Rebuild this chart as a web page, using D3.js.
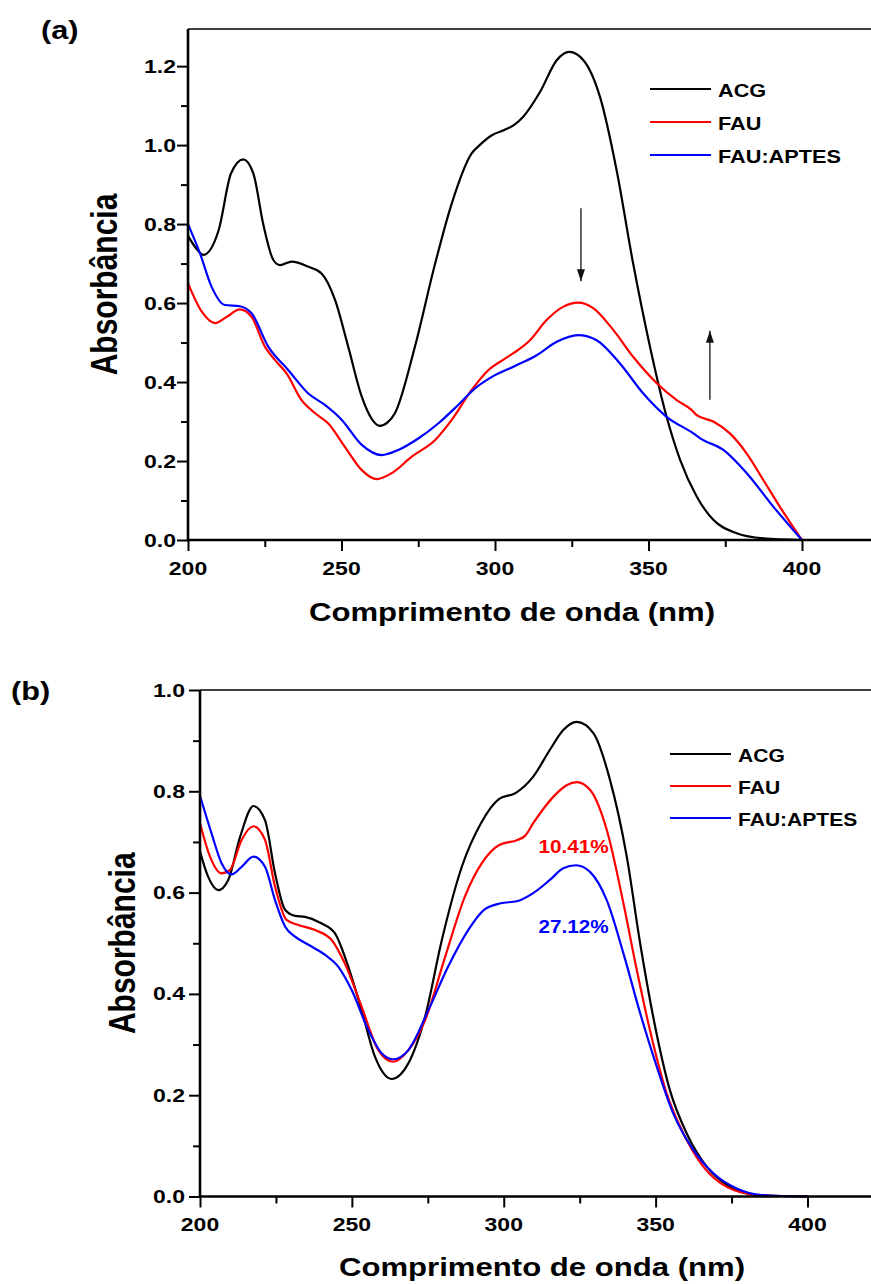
<!DOCTYPE html>
<html>
<head>
<meta charset="utf-8">
<script src="https://cdn.jsdelivr.net/npm/d3@7"></script>
<style>
body { margin: 0; background: #fff; }
text { font-family: Arial, "Liberation Sans", sans-serif; font-weight: bold; fill: #000; }
</style>
</head>
<body>
<svg id="chart" width="871" height="1284"></svg>
<script>
// ---- data: [wavelength nm, absorbance]
var acgA = [[200,0.770],[202.5,0.74],[205,0.722],[210,0.785],[214,0.928],[218,0.964],[221.3,0.928],[224.5,0.80],[227.8,0.709],[230,0.696],[233.8,0.705],[239.2,0.692],[243.5,0.675],[247.9,0.608],[252.2,0.489],[256.6,0.363],[260,0.305],[262.5,0.289],[265,0.298],[267.4,0.321],[273.9,0.489],[280.5,0.70],[285.9,0.852],[292.4,0.979],[295,1.0],[299,1.025],[303,1.038],[306,1.05],[309.2,1.072],[314.7,1.135],[320.1,1.215],[324.2,1.236],[328.8,1.215],[334.2,1.122],[339.6,0.937],[345,0.70],[350.5,0.489],[355.9,0.312],[360.3,0.203],[365.7,0.11],[371.1,0.051],[378.7,0.017],[387.4,0.004],[400,0]];
var fauA = [[200,0.65],[204.5,0.578],[208.8,0.549],[212.6,0.565],[216.9,0.584],[220.7,0.565],[225.1,0.489],[228.3,0.456],[232.1,0.422],[237,0.354],[241.4,0.321],[245.7,0.295],[251.1,0.236],[256.6,0.177],[261.5,0.154],[266.3,0.169],[272.9,0.211],[280.5,0.253],[285.9,0.304],[292.4,0.38],[297.8,0.43],[303,0.458],[306,0.473],[311.4,0.506],[316.8,0.557],[322.3,0.591],[327.1,0.601],[332,0.587],[338.5,0.532],[345,0.464],[352.7,0.397],[359.2,0.354],[364.1,0.329],[365.7,0.316],[371.1,0.30],[376.5,0.27],[382,0.219],[387.4,0.152],[392.8,0.084],[400,0]];
var aptesA = [[200,0.80],[203.9,0.726],[207.7,0.641],[212,0.595],[216.9,0.592],[220.7,0.574],[226.2,0.489],[232.7,0.43],[239.2,0.371],[244.6,0.342],[250.1,0.304],[256.6,0.241],[263.1,0.215],[268.5,0.228],[275,0.257],[281.5,0.295],[288,0.342],[293.5,0.384],[299,0.413],[306,0.439],[313.6,0.468],[320.1,0.502],[327.1,0.519],[333.1,0.506],[340.7,0.447],[348.3,0.371],[355.9,0.312],[364.6,0.27],[366.7,0.258],[374.4,0.228],[382,0.169],[390.7,0.084],[400,0]];

var acgB = [[200,0.681],[202.7,0.631],[206,0.605],[209.3,0.625],[213.2,0.71],[217.6,0.771],[221.4,0.743],[224.7,0.638],[228,0.566],[231.3,0.554],[234.6,0.552],[240.1,0.539],[244.4,0.52],[248.8,0.454],[253.2,0.368],[257.6,0.276],[263.1,0.232],[268.6,0.263],[274.1,0.355],[279.6,0.506],[286.2,0.651],[292.5,0.737],[298.5,0.785],[304,0.797],[309.7,0.829],[315.2,0.882],[319.6,0.921],[324,0.937],[329.5,0.915],[335,0.822],[340.5,0.671],[344.9,0.50],[349.2,0.355],[354.7,0.21],[360.2,0.125],[366.8,0.059],[374.5,0.019],[383.3,0.003],[400,0]];
var fauB = [[200,0.737],[203.3,0.671],[207.1,0.638],[209.9,0.645],[213.7,0.704],[217.6,0.731],[221.4,0.704],[224.7,0.612],[228.5,0.546],[232.4,0.536],[237.9,0.526],[243.4,0.506],[247.7,0.46],[253.2,0.375],[258.7,0.289],[263.6,0.266],[268.6,0.289],[274.1,0.348],[280.7,0.473],[287.2,0.592],[293,0.66],[298.5,0.694],[304.5,0.704],[307,0.712],[309.7,0.737],[316.3,0.789],[320.7,0.812],[324,0.818],[328.4,0.803],[333.9,0.724],[339.4,0.579],[343.8,0.447],[348.1,0.329],[353.6,0.204],[359.1,0.125],[365.7,0.059],[373.4,0.019],[383.3,0.003],[400,0]];
var aptesB = [[200,0.791],[203.8,0.717],[207.1,0.658],[210.4,0.636],[213.7,0.651],[217.6,0.671],[221.4,0.651],[224.7,0.585],[228,0.533],[231.3,0.513],[235.7,0.497],[241.2,0.477],[245.5,0.454],[249.9,0.408],[255.4,0.329],[259.8,0.283],[263.6,0.271],[268.6,0.289],[275.2,0.368],[281.7,0.454],[288.3,0.526],[293.5,0.566],[299,0.579],[304.3,0.583],[309.7,0.599],[315.2,0.625],[319.6,0.648],[323.8,0.654],[328.4,0.641],[333.9,0.585],[339.4,0.48],[344.9,0.362],[350.4,0.256],[355.8,0.164],[362.4,0.092],[369,0.046],[376.7,0.016],[385,0.003],[400,0]];

var seriesNames = ["ACG", "FAU", "FAU:APTES"];
var seriesColors = ["#000000", "#ff0000", "#0000ff"];
var xMajor = [200, 250, 300, 350, 400];
var xMinor = [225, 275, 325, 375];
var yMajorA = [0, 0.2, 0.4, 0.6, 0.8, 1.0, 1.2];
var yMinorA = [0.1, 0.3, 0.5, 0.7, 0.9, 1.1];
var yMajorB = [0, 0.2, 0.4, 0.6, 0.8, 1.0];
var yMinorB = [0.1, 0.3, 0.5, 0.7, 0.9];
// arrows in (a): [nm, from abs, to abs]
var arrowsA = [[328, 0.84, 0.655], [370, 0.355, 0.53]];
// percentage labels in (b): [text, nm, abs, colour index]
var notesB = [["10.41%", 323, 0.678, 1], ["27.12%", 323, 0.52, 2]];

var svg = d3.select("#chart");
var SX = 1.22; // the figure's lettering is drawn wide

svg.append("defs").append("marker")
    .attr("id", "head")
    .attr("markerUnits", "userSpaceOnUse")
    .attr("markerWidth", 14).attr("markerHeight", 10)
    .attr("refX", 12).attr("refY", 4)
    .attr("orient", "auto")
  .append("path")
    .attr("d", "M0,0 L12,4 L0,8 Z")
    .attr("fill", "#111");

function wideText(g, str, x, y, size, anchor, sx) {
    return g.append("text")
        .attr("transform", "translate(" + x + "," + y + ") scale(" + (sx || SX) + ",1)")
        .attr("text-anchor", anchor || "start")
        .style("font-size", size + "px")
        .text(str);
}

function drawPanel(p) {
    var g = svg.append("g");
    var x = d3.scaleLinear().domain([200, 400]).range([p.left, p.x400]);
    var y = d3.scaleLinear().domain([0, p.yTop]).range([p.bottom, p.top]);

    // lines
    var line = d3.line()
        .x(function (d) { return x(d[0]); })
        .y(function (d) { return y(d[1]); })
        .curve(d3.curveMonotoneX);
    p.series.forEach(function (s, i) {
        g.append("path")
            .attr("d", line(s))
            .attr("fill", "none")
            .attr("stroke", seriesColors[i])
            .attr("stroke-width", 2.2);
    });

    // axes
    function ticks(axis, vals, size, tr) {
        var a = g.append("g").attr("transform", tr)
            .call(axis.tickValues(vals).tickSize(size).tickFormat(""));
        a.select(".domain").remove();
        a.selectAll("line").attr("stroke", "#000").attr("stroke-width", 2);
    }
    ticks(d3.axisBottom(x), xMajor, 11, "translate(0," + p.bottom + ")");
    ticks(d3.axisBottom(x), xMinor, 7, "translate(0," + p.bottom + ")");
    ticks(d3.axisLeft(y), p.yMajor, 11, "translate(" + p.left + ",0)");
    ticks(d3.axisLeft(y), p.yMinor, 7, "translate(" + p.left + ",0)");

    g.append("line").attr("x1", p.left).attr("x2", 871).attr("y1", p.top).attr("y2", p.top)
        .attr("stroke", "#000").attr("stroke-width", 1.5);
    g.append("line").attr("x1", p.left).attr("x2", 871).attr("y1", p.bottom).attr("y2", p.bottom)
        .attr("stroke", "#000").attr("stroke-width", 2.6);
    g.append("line").attr("x1", p.left).attr("x2", p.left).attr("y1", p.top).attr("y2", p.bottom + 1.3)
        .attr("stroke", "#000").attr("stroke-width", 2.6);

    // tick labels
    xMajor.forEach(function (v) {
        wideText(g, v, x(v), p.xLabelY, 18, "middle", 1.28);
    });
    p.yMajor.forEach(function (v) {
        wideText(g, d3.format(".1f")(v), p.yLabelX, y(v) + 6.5, 18, "end", 1.28);
    });

    // axis titles
    wideText(g, "Comprimento de onda (nm)", p.xTitleX, p.xTitleY, 25.5, "middle");
    g.append("text")
        .attr("transform", "translate(" + p.yTitleX + "," + ((p.top + p.bottom) / 2) + ") rotate(-90) scale(1," + SX + ")")
        .attr("text-anchor", "middle")
        .style("font-size", "30px")
        .text("Absorbância");

    // panel letter
    wideText(g, p.letter, p.letterX, p.letterY, 26, "start", 1.18);

    // legend
    seriesNames.forEach(function (n, i) {
        var ly = p.legY + i * p.legStep;
        g.append("line").attr("x1", p.legX).attr("x2", p.legX + 61)
            .attr("y1", ly).attr("y2", ly)
            .attr("stroke", seriesColors[i]).attr("stroke-width", 2.2);
        wideText(g, n, p.legX + 68, ly + 8, p.legSize, "start", p.legSX);
    });

    return { g: g, x: x, y: y };
}

var pa = drawPanel({
    left: 188, x400: 802, top: 29, bottom: 540, yTop: 1.294,
    yMajor: yMajorA, yMinor: yMinorA,
    series: [acgA, fauA, aptesA],
    xLabelY: 575, yLabelX: 176,
    xTitleX: 512, xTitleY: 621, yTitleX: 117,
    letter: "(a)", letterX: 41, letterY: 39,
    legX: 650, legY: 89, legStep: 33, legSize: 17.5, legSX: 1.24
});

arrowsA.forEach(function (a) {
    pa.g.append("line")
        .attr("x1", pa.x(a[0])).attr("x2", pa.x(a[0]))
        .attr("y1", pa.y(a[1])).attr("y2", pa.y(a[2]))
        .attr("stroke", "#111").attr("stroke-width", 1.3)
        .attr("marker-end", "url(#head)");
});

var pb = drawPanel({
    left: 200, x400: 807.5, top: 690, bottom: 1196.5, yTop: 1.0,
    yMajor: yMajorB, yMinor: yMinorB,
    series: [acgB, fauB, aptesB],
    xLabelY: 1231, yLabelX: 185,
    xTitleX: 542, xTitleY: 1276, yTitleX: 135,
    letter: "(b)", letterX: 11, letterY: 700,
    legX: 670, legY: 754, legStep: 32, legSize: 18, legSX: 1.17
});

notesB.forEach(function (n) {
    wideText(pb.g, n[0], pb.x(n[1]), pb.y(n[2]), 18, "middle", 1.15)
        .style("fill", seriesColors[n[3]]);
});
</script>
</body>
</html>
